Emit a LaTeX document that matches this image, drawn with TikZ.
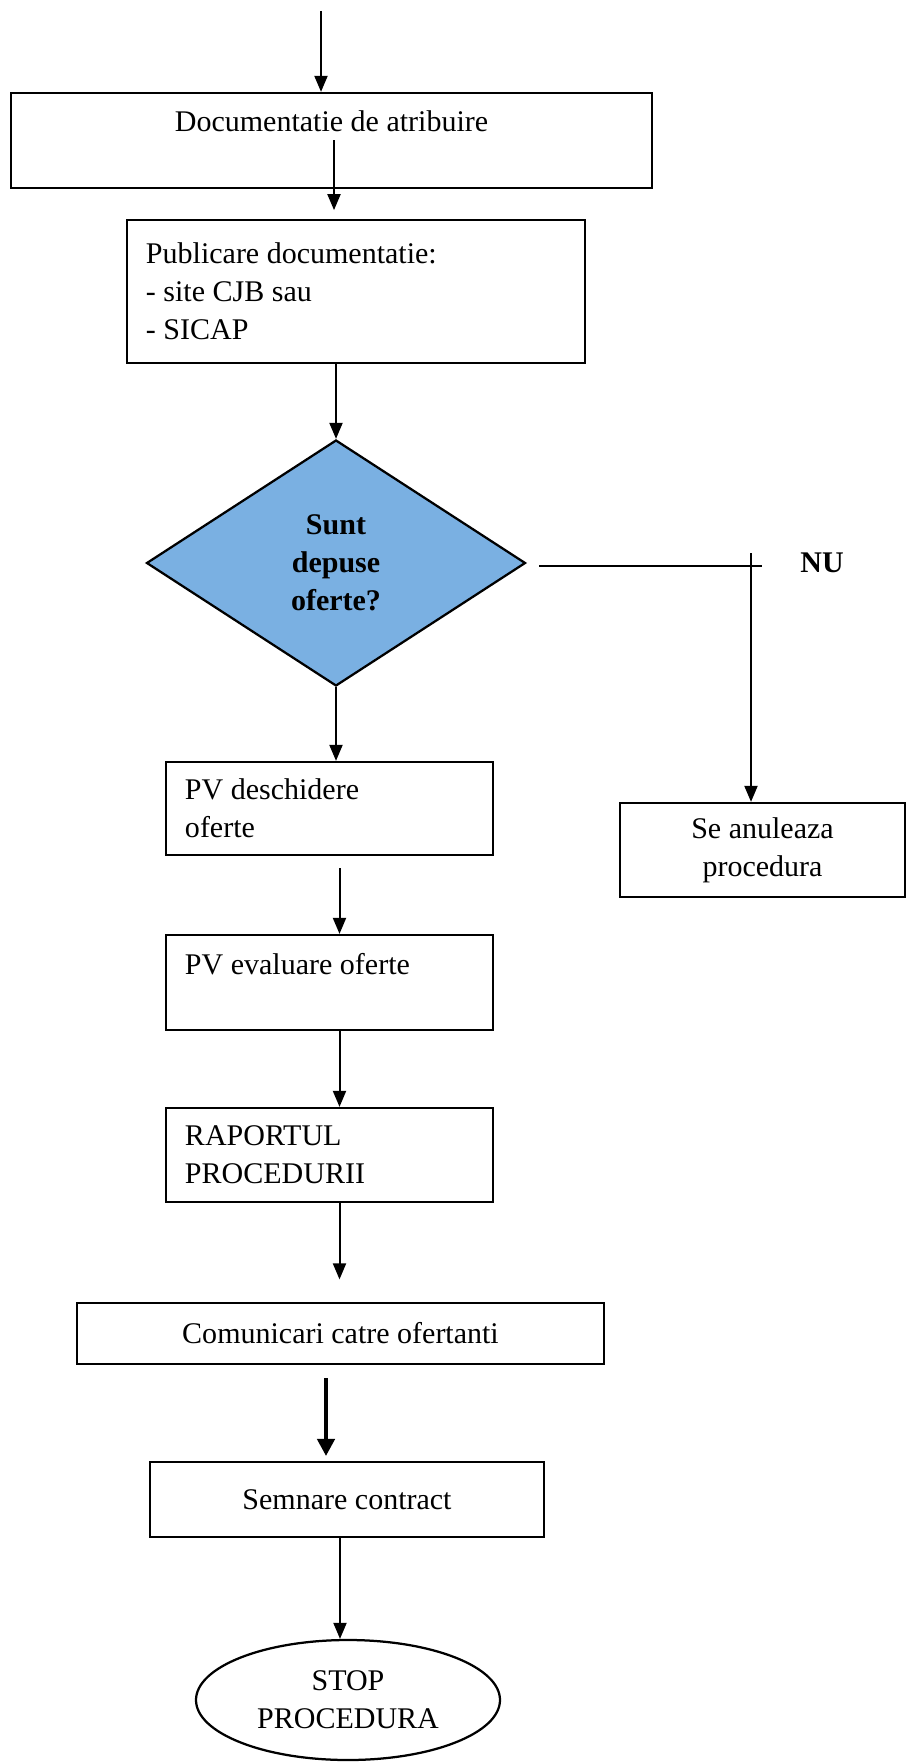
\documentclass[tikz,border=0pt]{standalone}
\usepackage{fontspec}
\setmainfont{Liberation Serif}
\usetikzlibrary{shapes.geometric,arrows.meta}
\definecolor{decblue}{RGB}{122,176,226}
\begin{document}
\begin{tikzpicture}[x=0.4pt,y=-0.4pt,
	every node/.style={font=\fontsize{12}{15.2}\selectfont},
	box/.style={draw,line width=0.9pt,inner sep=0pt,align=flush center},
	boxl/.style={box,align=flush left,inner xsep=7.6pt},
	decision/.style={diamond,draw,line width=0.9pt,fill=decblue,inner sep=0pt,
		align=flush center,font=\fontsize{12}{15.2}\selectfont\bfseries},
	term/.style={ellipse,draw,line width=0.9pt,inner sep=0pt,align=flush center},
	arr/.style={-{Triangle[length=6.4pt,width=5.2pt]},line width=0.8pt}]
	\useasboundingbox (0,0) rectangle (906,1764);

	\node[box,minimum width=256.4pt,minimum height=38pt] (doc) at (331.5,140.5)
		{Documentatie de atribuire\\ \mbox{}};
	\node[boxl,text width=168pt,minimum height=57.2pt] (pub) at (356,291.5)
		{Publicare documentatie:\\- site CJB sau\\- SICAP};
	\node[decision,minimum width=151.6pt,minimum height=98.4pt] (dec) at (336,563)
		{Sunt\\depuse\\oferte?};
	\node[font=\fontsize{12}{15.2}\selectfont\bfseries] (nu) at (822,563) {NU};
	\node[box,minimum width=114pt,minimum height=37.6pt] (anul) at (762.5,850)
		{Se anuleaza\\procedura};
	\node[boxl,text width=115.6pt,minimum height=37.2pt] (desc) at (329.5,808.5)
		{PV deschidere\\oferte};
	\node[boxl,text width=115.6pt,minimum height=38pt] (eval) at (329.5,982.5)
		{PV evaluare oferte\\ \mbox{}};
	\node[boxl,text width=115.6pt,minimum height=37.6pt] (rap) at (329.5,1155)
		{RAPORTUL\\PROCEDURII};
	\node[box,minimum width=210.8pt,minimum height=24.4pt] (comm) at (340.5,1333.5)
		{Comunicari catre ofertanti};
	\node[box,minimum width=157.6pt,minimum height=30pt] (semn) at (347,1499.5)
		{Semnare contract};
	\node[term,minimum width=121.6pt,minimum height=48pt] (stop) at (348,1700)
		{STOP\\PROCEDURA};

	\coordinate (start) at (321,11);
	\coordinate (nuA) at (539,566);
	\coordinate (nuB) at (762,566);
	\coordinate (nuTop) at (751,553);

	\draw[arr] (start) -- (start |- doc.north);
	\draw[arr,shorten >=3.5pt] ([xshift=1pt]doc.center) -- ([xshift=1pt]doc.center |- pub.north);
	\draw[arr] (dec.north |- pub.south) -- (dec.north);
	\draw[line width=0.8pt] (nuA) -- (nuB);
	\draw[arr] (nuTop) -- (nuTop |- anul.north);
	\draw[arr] (dec.south) -- (desc.north -| dec.south);
	\draw[arr,shorten <=4.8pt] ([xshift=4pt]desc.south) -- ([xshift=4pt]eval.north);
	\draw[arr] ([xshift=4pt]eval.south) -- ([xshift=4pt]rap.north);
	\draw[arr,shorten >=9pt] ([xshift=4pt]rap.south) -- ([xshift=4pt]rap.south |- comm.north);
	\draw[-{Triangle[length=6.8pt,width=7pt]},line width=1.3pt,shorten <=5.2pt,shorten >=2pt]
		([xshift=-5.8pt]comm.south) -- ([xshift=-5.8pt]comm.south |- semn.north);
	\draw[arr] ([xshift=-2.8pt]semn.south) -- ([xshift=-2.8pt]semn.south |- stop.north);
\end{tikzpicture}
\end{document}
